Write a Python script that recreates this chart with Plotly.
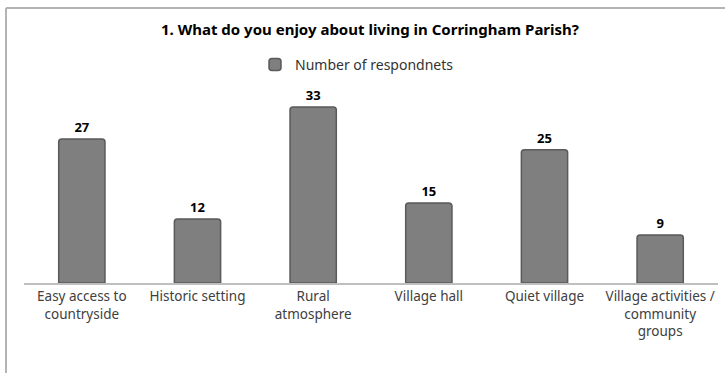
import plotly.graph_objects as go

categories = ["Easy access to<br>countryside", "Historic setting", "Rural<br>atmosphere",
              "Village hall", "Quiet village", "Village activities /<br>community<br>groups"]
values = [27, 12, 33, 15, 25, 9]
series_name = "Number of respondnets"
title_text = "1. What do you enjoy about living in Corringham Parish?"

W, H = 725, 373
ml, mr, mt, mb = 24, 7, 91, 90
pw, ph = W - ml - mr, H - mt - mb

fig = go.Figure()
fig.add_trace(go.Bar(
    x=categories, y=values, name=series_name,
    marker=dict(color="#7f7f7f", line=dict(color="#5a5a5a", width=1.5), cornerradius=3),
    width=0.4,
    text=[str(v) for v in values], textposition="outside",
    textfont=dict(family="Noto Sans", size=13, color="#000000"),
    texttemplate="<b>%{text}</b>",
    cliponaxis=False,
    showlegend=True,
))

border = dict(color="#b4b4b4", width=2)
fig.add_shape(type="line", xref="x domain", yref="y domain",
              x0=(6 - ml) / pw, x1=(725 - ml) / pw, y0=1 + (mt - 8) / ph, y1=1 + (mt - 8) / ph,
              line=border, layer="above")
fig.add_shape(type="line", xref="x domain", yref="y domain",
              x0=(6 - ml) / pw, x1=(6 - ml) / pw, y0=1 + (mt - 8) / ph, y1=-(H - mt - ph) / ph - 0.1,
              line=border, layer="above")

fig.update_layout(
    width=W, height=H,
    margin=dict(l=ml, r=mr, t=mt, b=mb, autoexpand=False),
    paper_bgcolor="white", plot_bgcolor="white",
    title=dict(text="<b>" + title_text + "</b>", x=370 / W, xanchor="center", y=1 - 30 / H, yanchor="middle",
               font=dict(family="Noto Sans", size=15, color="#000000")),
    legend=dict(orientation="h", x=(255 - ml) / pw, xanchor="left", y=1 - (65 - mt) / ph, yanchor="middle",
                font=dict(family="Noto Sans", size=14, color="#333333"), itemwidth=30),
    bargap=0.6,
    xaxis=dict(showline=True, linecolor="#bfbfbf", linewidth=1.5, ticks="", showgrid=False,
               automargin=False,
               tickfont=dict(family="Noto Sans", size=13.5, color="#404040")),
    yaxis=dict(range=[0, 36], visible=False, showgrid=False, automargin=False),
)

post = (
    "document.body.style.margin='0';document.body.style.overflow='hidden';"
    "var d=document.createElement('div');"
    "d.style.cssText='position:absolute;left:6px;top:7px;width:800px;height:0;"
    "border-top:2px solid #b4b4b4;pointer-events:none;z-index:10';"
    "document.body.appendChild(d);"
)
fig.write_html("out.html", config={"displayModeBar": False}, post_script=post)
